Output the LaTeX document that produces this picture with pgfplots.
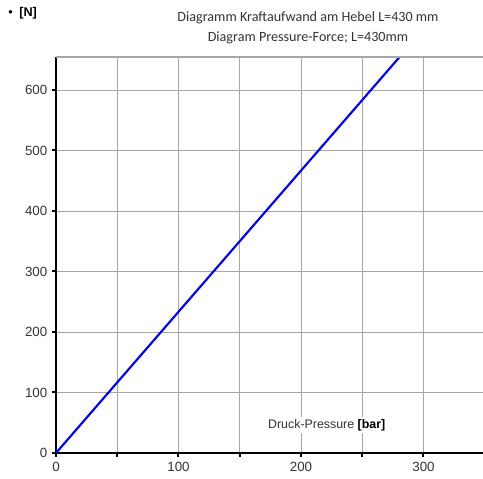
\documentclass[border=0pt]{standalone}
\usepackage{pgfplots}
\pgfplotsset{compat=1.18}
\usepackage{fontspec}
\setmainfont{Liberation Sans}
\newfontfamily\titlefont{Carlito}
\definecolor{txt}{HTML}{333333}
\definecolor{gridc}{HTML}{A6A6A6}
\begin{document}
\begin{tikzpicture}
\useasboundingbox (-42pt,-19.5pt) rectangle (320.25pt,339.75pt);
\begin{axis}[
  at={(0,0)}, anchor=south west,
  scale only axis,
  width=320.25pt, height=297pt,
  xmin=0, xmax=348.6, ymin=0, ymax=654.5,
  axis lines*=left,
  axis line style={black, line width=1.5pt},
  xtick={0,100,200,300},
  minor xtick={50,150,250},
  ytick={0,100,...,600},
  grid=both,
  major grid style={gridc, line width=0.6pt},
  minor grid style={gridc, line width=0.6pt},
  tick align=outside,
  major tick length=3pt,
  minor tick length=3pt,
  every tick/.style={black, line width=1.5pt},
  tick label style={font=\fontsize{10}{12}\selectfont, text=txt},
  /pgf/number format/assume math mode=true,
  clip=true,
]
\addplot[color=blue, line width=1.6pt] coordinates {(0,0) (300,700)};
\draw[gridc, line width=0.8pt] (rel axis cs:0,1) -- (rel axis cs:1,1);
\node[fill=white, inner sep=1.5pt, font=\fontsize{9.3}{11}\selectfont] at (axis cs:221,46)
  {\textcolor{txt}{Druck-Pressure} \textbf{[bar]}};
\end{axis}
\node[anchor=west, font=\fontsize{9.5}{11}\selectfont, inner sep=0pt] at (-36pt,330pt) {\textbullet\hspace{5pt}\textbf{[N]}};
\node[font=\titlefont\fontsize{10.6}{12.6}\selectfont, text=txt, align=center] at (189pt,319pt)
  {Diagramm Kraftaufwand am Hebel L=430 mm\\[2.5pt] Diagram Pressure-Force; L=430mm};
\end{tikzpicture}
\end{document}
